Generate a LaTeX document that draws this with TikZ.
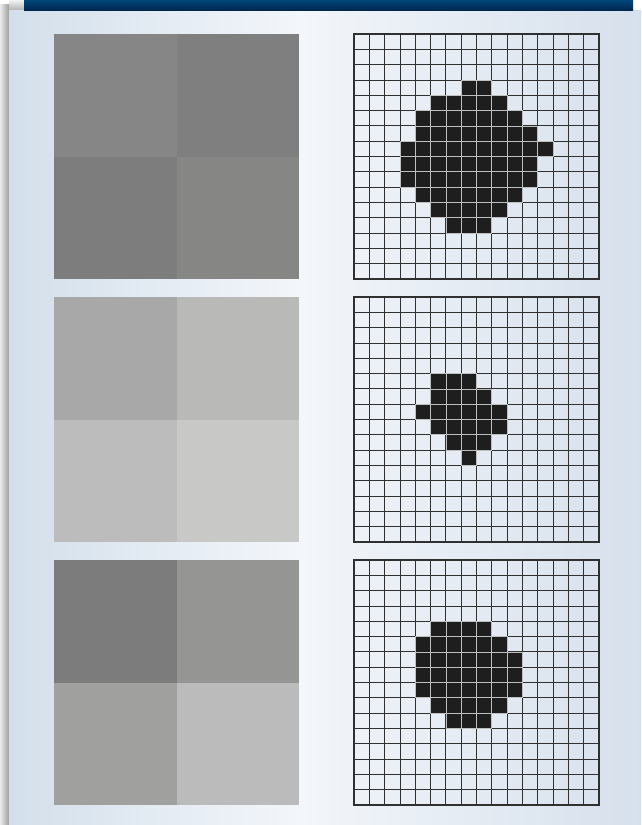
\documentclass[tikz,border=0pt]{standalone}
\usetikzlibrary{calc}
\definecolor{barA}{HTML}{00457A}
\definecolor{barB}{HTML}{00284F}
\definecolor{panL}{HTML}{D3DFEB}
\definecolor{panM}{HTML}{F3F6FA}
\definecolor{panR}{HTML}{D6E0EC}
\definecolor{cellK}{HTML}{1E1E1E}
\definecolor{gridK}{HTML}{303030}
\definecolor{aTL}{HTML}{868686}\definecolor{aTR}{HTML}{7F7F7F}\definecolor{aBL}{HTML}{7D7D7D}\definecolor{aBR}{HTML}{868684}
\definecolor{bTL}{HTML}{A8A8A8}\definecolor{bTR}{HTML}{B9B9B7}\definecolor{bBL}{HTML}{BCBCBC}\definecolor{bBR}{HTML}{C8C8C6}
\definecolor{cTL}{HTML}{7C7C7C}\definecolor{cTR}{HTML}{959593}\definecolor{cBL}{HTML}{A0A09E}\definecolor{cBR}{HTML}{BBBBBB}
\pgfdeclarehorizontalshading{panelshade}{100bp}{color(0bp)=(panL); color(25bp)=(panL); color(48bp)=(panM); color(75bp)=(panR); color(100bp)=(panR)}
\tikzset{
  gridline/.style={draw=gridK,line width=0.85pt},
  gridframe/.style={draw=gridK,line width=1.3pt},
  blackcell/.style={fill=cellK,draw=black!25,line width=0.7pt},
}
\begin{document}
\begin{tikzpicture}[x=1pt,y=-1pt]
\useasboundingbox (0,0) rectangle (641,825);
\fill[white] (0,0) rectangle (641,825);
% shadow
\shade[left color=black!8,right color=black!38] (0,4) rectangle (9,825);
\shade[top color=black!5,bottom color=black!30] (9,0) rectangle (24,10);
% panel
\shade[shading=panelshade] (9,10) rectangle (641,825);
% top bar
\shade[top color=barA,bottom color=barB] (24,0) rectangle (633,10);
% left squares
\def\sq{122.5}
\foreach \y/\p in {34/a,297/b,560/c}{
  \fill[\p TL] (54,\y) rectangle ++(\sq,\sq);
  \fill[\p TR] (54+\sq,\y) rectangle ++(\sq,\sq);
  \fill[\p BL] (54,\y+\sq) rectangle ++(\sq,\sq);
  \fill[\p BR] (54+\sq,\y+\sq) rectangle ++(\sq,\sq);
}
% grids
\def\cs{15.3125}
\foreach \y in {34,297,560}{
  \foreach \i in {1,...,15}{
    \draw[gridline] (354+\i*\cs,\y) -- (354+\i*\cs,\y+245);
    \draw[gridline] (354,\y+\i*\cs) -- (599,\y+\i*\cs);
  }
  \draw[gridframe] (354,\y) rectangle (599,\y+245);
}
% black cells
\foreach \r/\a/\b in {3/7/8,4/5/9,5/4/10,6/4/11,7/3/12,8/3/11,9/3/11,10/4/10,11/5/9,12/6/8}{
  \foreach \c in {\a,...,\b}{
    \draw[blackcell] (354+\c*\cs,34+\r*\cs) rectangle ++(\cs,\cs);
  }
}
\foreach \r/\a/\b in {5/5/7,6/5/8,7/4/9,8/5/9,9/6/8,10/7/7}{
  \foreach \c in {\a,...,\b}{
    \draw[blackcell] (354+\c*\cs,297+\r*\cs) rectangle ++(\cs,\cs);
  }
}
\foreach \r/\a/\b in {4/5/8,5/4/9,6/4/10,7/4/10,8/4/10,9/5/9,10/6/8}{
  \foreach \c in {\a,...,\b}{
    \draw[blackcell] (354+\c*\cs,560+\r*\cs) rectangle ++(\cs,\cs);
  }
}
\end{tikzpicture}
\end{document}
